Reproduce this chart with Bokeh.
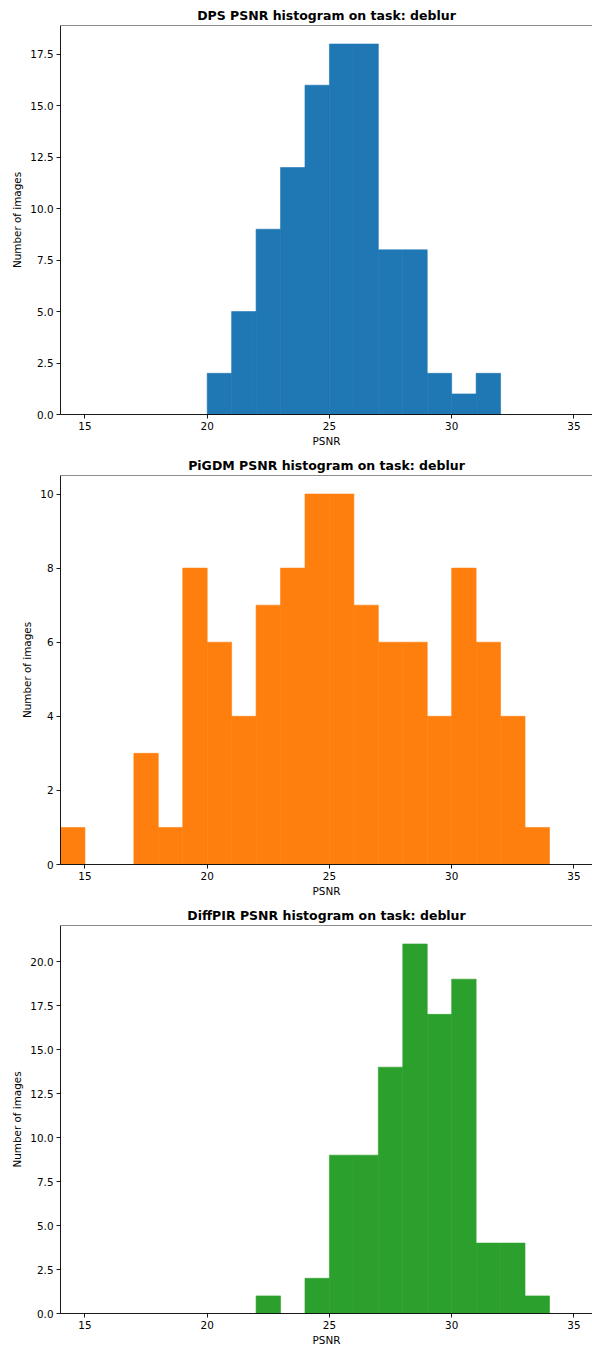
from bokeh.plotting import figure
from bokeh.layouts import column
from bokeh.models import Range1d, FixedTicker, PrintfTickFormatter, Span
from bokeh.embed import file_html
from bokeh.resources import INLINE

# ---- data (1-dB PSNR bins) ----
dps_edges = [20, 21, 22, 23, 24, 25, 26, 27, 28, 29, 30, 31, 32]
dps_counts = [2, 5, 9, 12, 16, 18, 18, 8, 8, 2, 1, 2]

pigdm_edges = [14, 15, 16, 17, 18, 19, 20, 21, 22, 23, 24, 25, 26, 27, 28, 29, 30, 31, 32, 33, 34]
pigdm_counts = [1, 0, 0, 3, 1, 8, 6, 4, 7, 8, 10, 10, 7, 6, 6, 4, 8, 6, 4, 1]

diffpir_edges = [22, 23, 24, 25, 26, 27, 28, 29, 30, 31, 32, 33, 34]
diffpir_counts = [1, 0, 2, 9, 9, 14, 21, 17, 19, 4, 4, 1]

x_ticks = [15, 20, 25, 30, 35]
dps_yticks = [0, 2.5, 5, 7.5, 10, 12.5, 15, 17.5]
pigdm_yticks = [0, 2, 4, 6, 8, 10]
diffpir_yticks = [0, 2.5, 5, 7.5, 10, 12.5, 15, 17.5, 20]

FONT = "DejaVu Sans"


def make_panel(title, edges, counts, color, yticks, ymax, fmt, height):
    p = figure(width=592, height=height, output_backend="svg", toolbar_location=None,
               x_range=Range1d(14.0, 35.76), y_range=Range1d(0, ymax),
               min_border_left=60, min_border_right=0, min_border_top=25,
               min_border_bottom=height - 25 - 389)
    p.title.text = title
    p.title.align = "center"
    p.title.text_font = FONT
    p.title.text_font_size = "12.5px"
    p.title.text_font_style = "bold"
    p.title.text_color = "black"
    p.title.standoff = 6
    p.title.offset = 0

    nonzero = [i for i, c in enumerate(counts) if c > 0]
    p.quad(left=[edges[i] for i in nonzero], right=[edges[i + 1] for i in nonzero],
           top=[counts[i] for i in nonzero], bottom=0,
           fill_color=color, line_color=color, line_width=0.6)

    p.xgrid.visible = False
    p.ygrid.visible = False
    p.outline_line_color = None
    p.add_layout(Span(location=ymax, dimension="width", line_color="black", line_width=0.9))

    for ax in (p.xaxis[0], p.yaxis[0]):
        ax.axis_line_color = "black"
        ax.axis_line_width = 0.9
        ax.major_tick_line_color = "black"
        ax.major_tick_line_width = 0.9
        ax.major_tick_out = 4
        ax.major_tick_in = 0
        ax.minor_tick_line_color = None
        ax.major_label_text_font = FONT
        ax.major_label_text_font_size = "10.4px"
        ax.major_label_text_color = "black"
        ax.axis_label_text_font = FONT
        ax.axis_label_text_font_size = "10.4px"
        ax.axis_label_text_font_style = "normal"
        ax.axis_label_text_color = "black"
        ax.major_label_standoff = 3

    p.xaxis[0].ticker = FixedTicker(ticks=x_ticks)
    p.xaxis[0].axis_label = "PSNR"
    p.xaxis[0].axis_label_standoff = 2
    p.yaxis[0].ticker = FixedTicker(ticks=yticks)
    p.yaxis[0].formatter = PrintfTickFormatter(format=fmt)
    p.yaxis[0].axis_label = "Number of images"
    p.yaxis[0].axis_label_standoff = 4
    return p


p1 = make_panel("DPS PSNR histogram on task: deblur", dps_edges, dps_counts,
                "#1f77b4", dps_yticks, 18.9, "%.1f", 450)
p2 = make_panel("PiGDM PSNR histogram on task: deblur", pigdm_edges, pigdm_counts,
                "#ff7f0e", pigdm_yticks, 10.5, "%d", 450)
p3 = make_panel("DiffPIR PSNR histogram on task: deblur", diffpir_edges, diffpir_counts,
                "#2ca02c", diffpir_yticks, 22.05, "%.1f", 448)

layout = column(p1, p2, p3, spacing=0)
open("out.html", "w").write(file_html(layout, INLINE))
